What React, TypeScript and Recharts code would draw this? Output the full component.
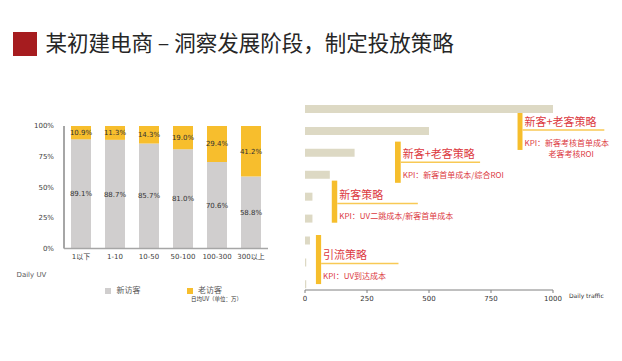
import { BarChart, Bar, XAxis, YAxis, LabelList, ReferenceArea, ReferenceLine } from 'recharts'

// left chart: share of new vs returning visitors per daily UV bucket
const uvBuckets = ['1以下', '1-10', '10-50', '50-100', '100-300', '300以上']
const newVisitors = [89.1, 88.7, 85.7, 81.0, 70.6, 58.8]
const oldVisitors = [10.9, 11.3, 14.3, 19.0, 29.4, 41.2]
const percentTicks = [0, 25, 50, 75, 100]

// right chart: daily traffic stages (top row first)
const trafficRows = [0, 1, 2, 3, 4, 5, 6, 7, 8]
const trafficValues = [1000, 500, 200, 100, 30, 30, 20, 5, 5]
const trafficTicks = [0, 250, 500, 750, 1000]

// strategy markers, in traffic / row units
const strategyTitles = ['新客+老客策略', '新客+老客策略', '新客策略', '引流策略']
const strategyKpis = [
  ['KPI：新客考核首单成本', '老客考核ROI'],
  ['KPI：新客首单成本/综合ROI'],
  ['KPI：UV二跳成本/新客首单成本'],
  ['KPI：UV到达成本'],
]
const strategyFrom = [857, 363, 108, 44]
const strategyTo = [877, 386, 130, 65]
const strategyTop = [0, 1.49, 3.27, 5.75]
const strategyBottom = [1.87, 3.37, 5.19, 7.99]
const strategyRule = [0.96, 2.43, 4.31, 7.05]
const strategyRuleEnd = [1207, 706, 455, 377]

const shareData = uvBuckets.map((bucket, i) => ({
  bucket,
  newV: newVisitors[i],
  oldV: oldVisitors[i],
}))

const trafficData = trafficRows.map((row, i) => ({ row, traffic: trafficValues[i] }))

const LATIN = 'DejaVu Sans, "Noto Sans CJK SC", sans-serif'
const CJK = '"Noto Sans CJK SC", sans-serif'
const RED = '#DC3A3F'

function StrategyText({ viewBox, title, kpi }: any) {
  if (!viewBox) return null
  const x = viewBox.x + 2
  const y = viewBox.y
  return (
    <g fontFamily={CJK} fill={RED}>
      <text x={x} y={y - 9} dominantBaseline="central" fontSize={11}>
        {title}
      </text>
      {kpi.map((line: string, i: number) => (
        <text key={i} x={x + (i ? 24 : 0)} y={y + 12.5 + i * 11} dominantBaseline="central" fontSize={8}>
          {line}
        </text>
      ))}
    </g>
  )
}

export default function App() {
  return (
    <div
      style={{
        position: 'absolute',
        left: 0,
        top: 0,
        width: 622,
        height: 361,
        background: '#fff',
        overflow: 'hidden',
        fontFamily: CJK,
      }}
    >
      <div style={{ position: 'absolute', left: 12.5, top: 31.5, width: 24.5, height: 24.5, background: '#A61C1F' }} />
      <div style={{ position: 'absolute', left: 45.5, top: 31, fontSize: 21.5, lineHeight: '22px', color: '#262626', whiteSpace: 'nowrap' }}>
        某初建电商 – 洞察发展阶段，制定投放策略
      </div>

      <div style={{ position: 'absolute', left: 0, top: 100 }}>
        <BarChart width={290} height={170} data={shareData} margin={{ top: 26, right: 22, bottom: 0, left: 0 }} barSize={20}>
          <XAxis
            dataKey="bucket"
            height={21.5}
            axisLine={{ stroke: '#A6A6A6', strokeWidth: 1.5 }}
            tickLine={false}
            tickMargin={0}
            tick={{ fontSize: 7, fill: '#404040', fontFamily: LATIN }}
            interval={0}
          />
          <YAxis
            width={64}
            domain={[0, 100]}
            ticks={percentTicks}
            tickFormatter={(v) => `${v}%`}
            axisLine={{ stroke: '#A6A6A6', strokeWidth: 2 }}
            tickLine={false}
            tickMargin={4}
            tick={{ fontSize: 7, fill: '#404040', fontFamily: LATIN }}
          />
          <Bar dataKey="newV" stackId="a" fill="#D0CECE" isAnimationActive={false}>
            <LabelList dataKey="newV" position="center" formatter={(v: any) => `${Number(v).toFixed(1)}%`} style={{ fontSize: 7, fill: '#333', fontFamily: LATIN }} />
          </Bar>
          <Bar dataKey="oldV" stackId="a" fill="#F7BE2D" isAnimationActive={false}>
            <LabelList dataKey="oldV" position="center" formatter={(v: any) => `${Number(v).toFixed(1)}%`} style={{ fontSize: 7, fill: '#333', fontFamily: LATIN }} />
          </Bar>
        </BarChart>
      </div>

      <div style={{ position: 'absolute', left: 16.5, top: 270, fontSize: 7, lineHeight: '11px', color: '#595959', fontFamily: LATIN }}>Daily UV</div>
      <div style={{ position: 'absolute', left: 105, top: 287.5, width: 6, height: 6, background: '#D0CECE' }} />
      <div style={{ position: 'absolute', left: 116.5, top: 285, fontSize: 8, lineHeight: '10px', color: '#595959' }}>新访客</div>
      <div style={{ position: 'absolute', left: 186.5, top: 287.5, width: 6, height: 6, background: '#F7BE2D' }} />
      <div style={{ position: 'absolute', left: 198, top: 285, fontSize: 8, lineHeight: '10px', color: '#595959' }}>老访客</div>
      <div style={{ position: 'absolute', left: 191, top: 296, fontSize: 5.5, lineHeight: '6px', color: '#333', whiteSpace: 'nowrap' }}>日均UV（单位：万）</div>

      <div style={{ position: 'absolute', left: 290, top: 80 }}>
        <BarChart width={332} height={240} data={trafficData} layout="vertical" margin={{ top: 18, right: 69, bottom: 0, left: 15 }}>
          <XAxis
            type="number"
            domain={[0, 1000]}
            ticks={trafficTicks}
            height={30}
            axisLine={{ stroke: '#808080' }}
            tickLine={{ stroke: '#808080' }}
            tickSize={3}
            tickMargin={3}
            tick={{ fontSize: 7, fill: '#333', fontFamily: LATIN }}
          />
          <YAxis type="number" dataKey="row" domain={[-0.5, 8.26]} hide />
          <Bar dataKey="traffic" fill="#DDD9C4" barSize={8} isAnimationActive={false} />
          {strategyTitles.map((title, i) => (
            <ReferenceArea
              key={`m${i}`}
              x1={strategyFrom[i]}
              x2={strategyTo[i]}
              y1={strategyTop[i]}
              y2={strategyBottom[i]}
              fill="#F6BE2C"
              fillOpacity={1}
              stroke="none"
              ifOverflow="visible"
            />
          ))}
          {strategyTitles.map((title, i) => (
            <ReferenceLine
              key={`r${i}`}
              segment={[
                { x: strategyTo[i], y: strategyRule[i] },
                { x: strategyRuleEnd[i], y: strategyRule[i] },
              ]}
              stroke="#F8C955"
              strokeWidth={1.5}
              ifOverflow="visible"
              label={<StrategyText title={title} kpi={strategyKpis[i]} />}
            />
          ))}
        </BarChart>
      </div>
      <div style={{ position: 'absolute', left: 569, top: 291, fontSize: 6, lineHeight: '10px', color: '#333', fontFamily: LATIN, whiteSpace: 'nowrap' }}>Daily traffic</div>
    </div>
  )
}
